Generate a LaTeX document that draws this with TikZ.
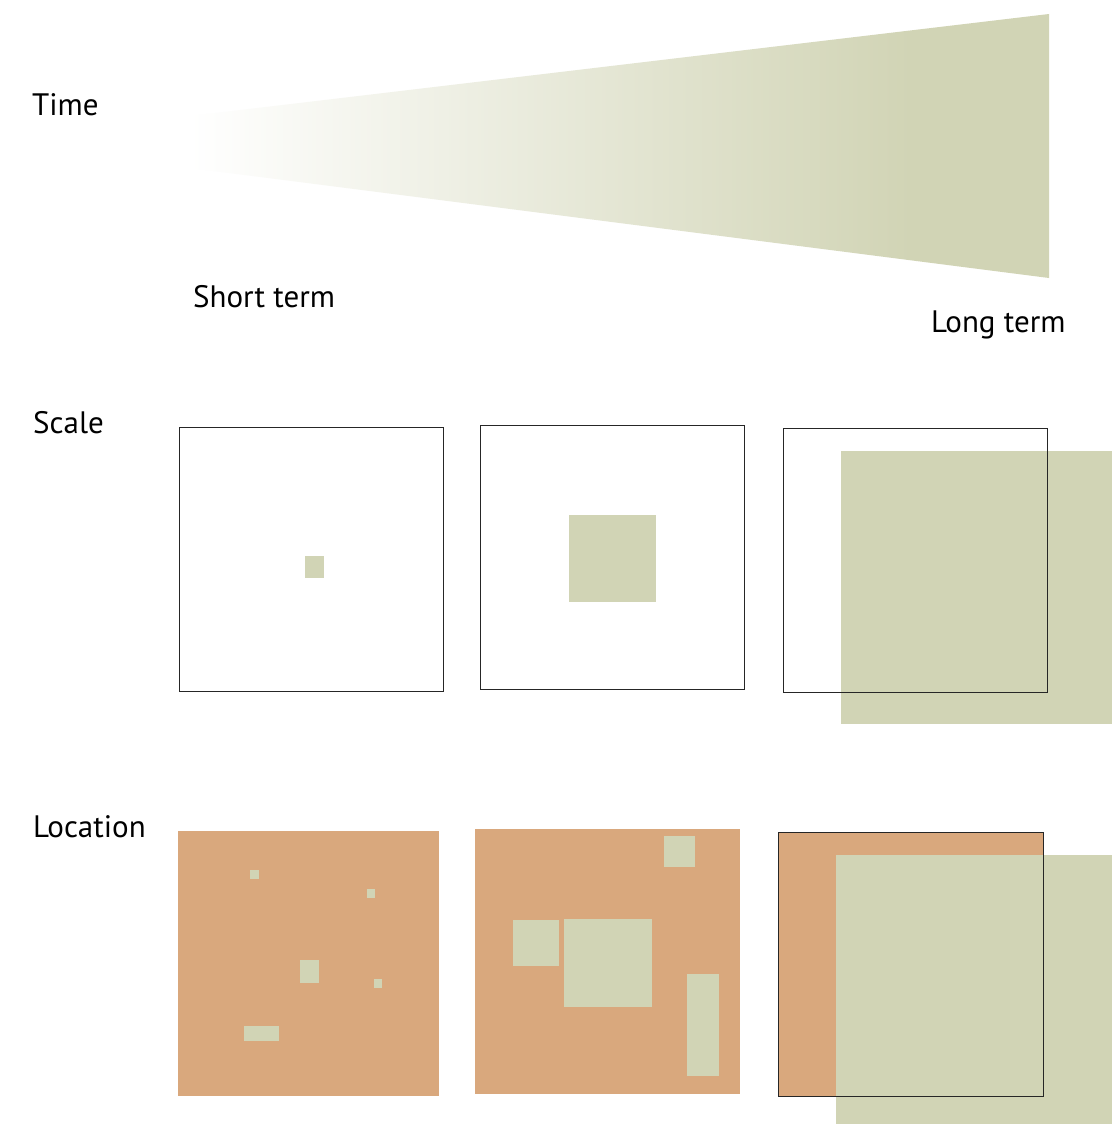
\documentclass[tikz,border=0pt]{standalone}
\usepackage{fontspec}
\setmainfont{PT Sans}
\definecolor{sage}{RGB}{209,212,181}
\definecolor{clay}{RGB}{217,168,125}
\pgfdeclarehorizontalshading{wedgefade}{100bp}{color(0bp)=(white); color(25bp)=(white); color(67bp)=(sage); color(100bp)=(sage)}
\begin{document}
\begin{tikzpicture}[x=1pt,y=-1pt,
  lbl/.style={anchor=base west,inner sep=0pt,font=\fontsize{31}{36}\selectfont},
  frame/.style={draw=black!85,line width=0.85pt},
  patch/.style={fill=sage},
  ground/.style={fill=clay}]
\path[use as bounding box,fill=white] (0,0) rectangle (1112,1124);
% time wedge
\shade[shading=wedgefade] (190,116) -- (1049,14) -- (1049,278) -- (190,168) -- cycle;
\node[lbl] (time) at (32,115) {Time};
\node[lbl] (short) at (193,307) {Short term};
\node[lbl] (long) at (931,332) {Long term};
% scale row
\node[lbl] (scale) at (33,433) {Scale};
\fill[patch] (305,556) rectangle (324,578);
\draw[frame] (179,427) rectangle (443,691);
\fill[patch] (569,515) rectangle (656,602);
\draw[frame] (480,425) rectangle (744,689);
\fill[patch] (841,451) rectangle (1112,724);
\draw[frame] (783,428) rectangle (1047,692);
% location row
\node[lbl] (location) at (33,837) {Location};
\fill[ground] (178,831) rectangle (438.5,1095.5);
\fill[patch] (250,870) rectangle (259,879);
\fill[patch] (367,889) rectangle (375,898);
\fill[patch] (300,960) rectangle (319,983);
\fill[patch] (374,979) rectangle (382,988);
\fill[patch] (244,1026) rectangle (279,1041);
\fill[ground] (474.5,829) rectangle (739.5,1094);
\fill[patch] (664,836) rectangle (695,867);
\fill[patch] (513,920) rectangle (559,966);
\fill[patch] (564,919) rectangle (652,1007);
\fill[patch] (687,974) rectangle (719,1076);
\fill[ground] (778.5,832) rectangle (1043,1096);
\fill[patch] (836,855) rectangle (1112,1124);
\draw[frame] (778.5,832) rectangle (1043,1096);
\end{tikzpicture}
\end{document}
